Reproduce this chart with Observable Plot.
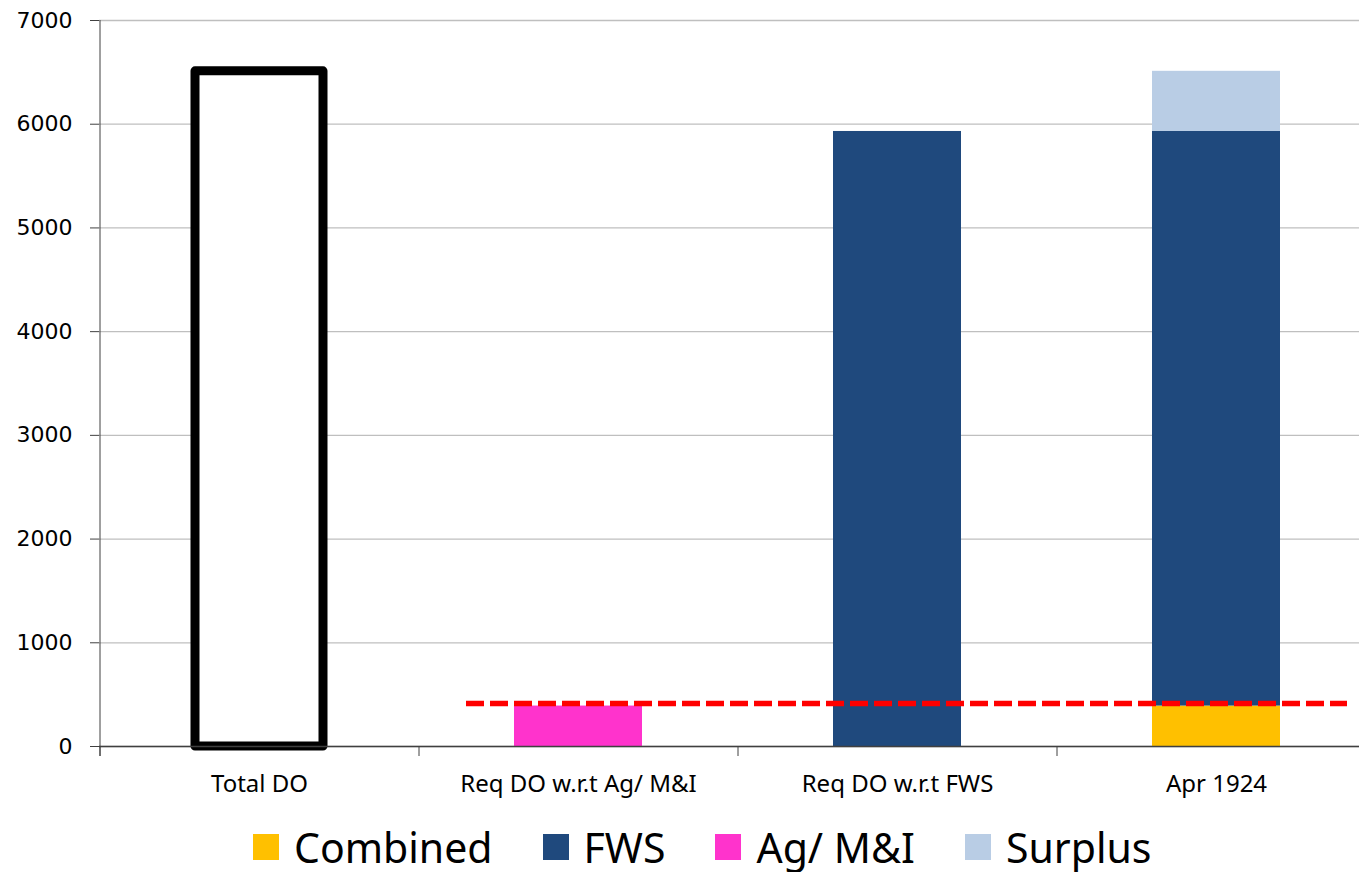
<!DOCTYPE html>
<html>
<head>
<meta charset="utf-8">
<script src="https://cdn.jsdelivr.net/npm/d3@7"></script>
<script src="https://cdn.jsdelivr.net/npm/@observablehq/plot@0.6"></script>
<style>
  html, body { margin: 0; padding: 0; background: #fff; }
  body { width: 1359px; height: 872px; overflow: hidden; }
  #legend {
    display: flex; align-items: center;
    height: 50px; padding-top: 22px; padding-left: 253px;
    font-family: "Noto Sans", sans-serif; font-size: 41px; line-height: 1; color: #000;
  }
  .item { display: flex; align-items: center; margin-right: 50px; }
  .swatch { width: 26px; height: 26px; margin-right: 15px; }
</style>
</head>
<body>
<div id="chart"></div>
<div id="legend"></div>
<script>
// Categories along the x axis
const categories = ["Total DO", "Req DO w.r.t Ag/ M&I", "Req DO w.r.t FWS", "Apr 1924"];

// Stacked series, one value per category (0 = no segment)
const series = ["Combined", "FWS", "Ag/ M&I", "Surplus"];
const seriesColors = ["#FFC000", "#1F497D", "#FF33CC", "#B9CDE5"];
const combinedValues = [0, 0, 0, 390];
const fwsValues = [0, 0, 5930, 5540];
const agValues = [0, 390, 0, 0];
const surplusValues = [0, 0, 0, 580];

// Outlined total bar
const totalValues = [6510, 0, 0, 0];

// Required DO threshold (dashed line)
const thresholdDO = 415;

// Y axis ticks
const yTicks = [0, 1000, 2000, 3000, 4000, 5000, 6000, 7000];

// Long-format table for the stacked bars
const seriesValues = [combinedValues, fwsValues, agValues, surplusValues];
const stackRows = [];
categories.forEach((category, i) => {
  series.forEach((s, k) => {
    if (seriesValues[k][i] > 0) stackRows.push({category, series: s, value: seriesValues[k][i]});
  });
});
const totalRows = categories
  .map((category, i) => ({category, value: totalValues[i]}))
  .filter(d => d.value > 0);

const xRange = [99, 1375];
const step = (xRange[1] - xRange[0]) / categories.length;

const chart = Plot.plot({
  width: 1359,
  height: 800,
  marginTop: 20,
  marginBottom: 54,
  marginLeft: 99,
  marginRight: 0,
  style: {background: "white", overflow: "hidden"},
  x: {domain: categories, range: xRange, paddingInner: 0.6, paddingOuter: 0.3, label: null},
  y: {domain: [0, 7000], label: null},
  color: {domain: series, range: seriesColors},
  marks: [
    Plot.gridY(yTicks, {stroke: "#BFBFBF", strokeOpacity: 1, strokeWidth: 1.3}),
    Plot.barY(stackRows, {x: "category", y: "value", fill: "series"}),
    Plot.barY(totalRows, {x: "category", y: "value", fill: "white", stroke: "black", strokeWidth: 9, strokeLinejoin: "round"}),
    Plot.ruleY([0], {stroke: "#404040", strokeWidth: 1.5}),
    // category boundary ticks below the baseline
    Plot.ruleX(categories, {dx: -step / 2, y1: 0, y2: 0, insetTop: 10, stroke: "#404040"}),
    // vertical axis line
    Plot.ruleX([categories[0]], {dx: -step / 2, y1: 0, y2: 7000, insetTop: 10, stroke: "#404040"}),
    // threshold line
    Plot.ruleY([thresholdDO], {
      x1: () => categories[1], x2: () => categories[3],
      insetLeft: -48, insetRight: -67,
      stroke: "#FF0000", strokeWidth: 5.5, strokeDasharray: "18,6"
    }),
    Plot.axisY({
      ticks: yTicks, tickSize: 9, tickPadding: 18, tickFormat: d => String(d),
      fontSize: 22, fontFamily: "DejaVu Sans", stroke: "#404040", fill: "black", label: null
    }),
    Plot.axisX({
      tickSize: 0, tickPadding: 28, fontSize: 24, fontFamily: "Noto Sans", fill: "black", label: null
    })
  ]
});
document.getElementById("chart").appendChild(chart);

// Legend
const legend = document.getElementById("legend");
series.forEach((s, k) => {
  const item = document.createElement("div");
  item.className = "item";
  const sw = document.createElement("span");
  sw.className = "swatch";
  sw.style.background = seriesColors[k];
  const label = document.createElement("span");
  label.textContent = s;
  item.appendChild(sw);
  item.appendChild(label);
  legend.appendChild(item);
});
</script>
</body>
</html>
